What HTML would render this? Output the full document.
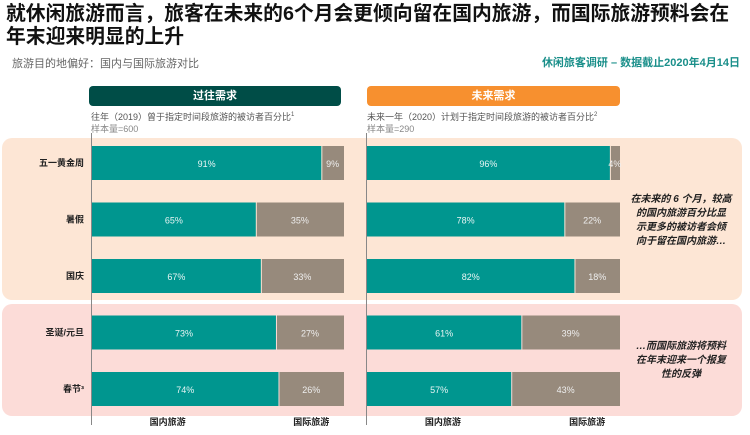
<!DOCTYPE html>
<html><head><meta charset="utf-8"><style>
body{margin:0;width:750px;height:435px;background:#fff;position:relative;overflow:hidden;font-family:"Liberation Sans","Noto Sans CJK SC",sans-serif}
.a{position:absolute}
</style></head><body>
<div class="a" style="left:6px;top:3px;width:745px;font-size:19.8px;font-weight:bold;line-height:23px;color:#111;white-space:nowrap">就休闲旅游而言，旅客在未来的6个月会更倾向留在国内旅游，而国际旅游预料会在<br>年末迎来明显的上升</div>
<div class="a" style="left:12px;top:55px;font-size:11px;color:#666">旅游目的地偏好：国内与国际旅游对比</div>
<div class="a" style="right:10px;top:54px;font-size:11px;font-weight:bold;color:#1a8f8a">休闲旅客调研 – 数据截止2020年4月14日</div>
<div class="a" style="left:2px;top:138px;width:740px;height:162px;background:#fde6d5;border-radius:10px"></div>
<div class="a" style="left:2px;top:304px;width:740px;height:112px;background:#fcdcd8;border-radius:10px"></div>
<div class="a" style="left:89px;top:86px;width:252px;height:20px;background:#004d47;border-radius:4px;color:#fff;font-size:11px;font-weight:bold;text-align:center;line-height:20px">过往需求</div>
<div class="a" style="left:367px;top:86px;width:253px;height:20px;background:#f7902f;border-radius:4px;color:#fff;font-size:11px;font-weight:bold;text-align:center;line-height:20px">未来需求</div>
<div class="a" style="left:91px;top:109px;font-size:9px;color:#555;line-height:12px">往年（2019）曾于指定时间段旅游的被访者百分比<sup style="font-size:6px">1</sup><br><span style="color:#888">样本量=600</span></div>
<div class="a" style="left:367px;top:109px;font-size:9px;color:#555;line-height:12px">未来一年（2020）计划于指定时间段旅游的被访者百分比<sup style="font-size:6px">2</sup><br><span style="color:#888">样本量=290</span></div>
<div class="a" style="left:622px;top:193px;width:118px;font-size:10px;font-weight:bold;font-style:italic;text-align:center;line-height:14px;color:#222;white-space:nowrap">在未来的 6 个月，较高<br>的国内旅游百分比显<br>示更多的被访者会倾<br>向于留在国内旅游…</div>
<div class="a" style="left:622px;top:340px;width:118px;font-size:10px;font-weight:bold;font-style:italic;text-align:center;line-height:14px;color:#222;white-space:nowrap">…而国际旅游将预料<br>在年末迎来一个报复<br>性的反弹</div>
<svg class="a" style="left:0;top:0" width="750" height="435" id="svg"></svg>
<script>
const categories=["五一黄金周","暑假","国庆","圣诞/元旦","春节³"];
const pastDomestic=[91,65,67,73,74];
const futureDomestic=[96,78,82,61,57];
const ns="http://www.w3.org/2000/svg",svg=document.getElementById('svg');
function mk(t,a){const e=document.createElementNS(ns,t);for(const k in a)e.setAttribute(k,a[k]);svg.appendChild(e);return e}
const rowY=i=>146+i*56.5, barH=34;
function xs(x0,w){return v=>x0+v/100*w}
function panel(x0,w,vals,key){
  const x=xs(x0,w);
  vals.forEach((v,i)=>{
    const y=rowY(i);
    let r=mk('rect',{x:x(0),y:y,width:x(v)-x(0),height:barH,fill:'#00968f'});
    
    
    let g=mk('rect',{x:x(v)+1,y:y,width:x(100)-x(v)-1,height:barH,fill:'#978a7c'});
    
    
    let t=mk('text',{x:(x(0)+x(v))/2,y:y+21,'text-anchor':'middle','font-size':9,fill:'#e8f5f4'});t.textContent=v+'%';
    
    
    let t2=mk('text',{x:(x(v)+x(100))/2,y:y+21,'text-anchor':'middle','font-size':9,fill:'#eee'});t2.textContent=(100-v)+'%';
    
    
  });
  let ax=mk('line',{x1:x0-0.5,x2:x0-0.5,y1:133,y2:425,stroke:'#888','stroke-width':1});
  
  
  [['国内旅游',x(30)],['国际旅游',x(87)]].forEach(([s,px])=>{
    let t=mk('text',{x:px,y:425,'text-anchor':'middle','font-size':9,'font-weight':'bold',fill:'#222'});t.textContent=s;
    
    
  });
}
panel(92,252,pastDomestic,'past');
panel(367,253,futureDomestic,'future');
categories.forEach((c,i)=>{
  let t=mk('text',{x:84,y:rowY(i)+20,'text-anchor':'end','font-size':9,'font-weight':'bold',fill:'#222'});t.textContent=c;
  
  
});
</script>
</body></html>
